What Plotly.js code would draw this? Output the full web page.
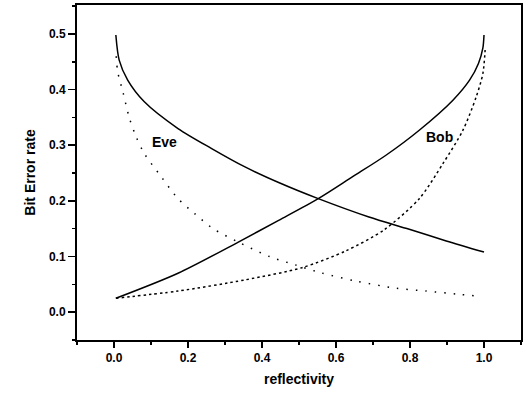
<!DOCTYPE html>
<html>
<head>
<meta charset="utf-8">
<script src="https://cdn.plot.ly/plotly-3.0.1.min.js"></script>
<style>html,body{margin:0;padding:0;background:#fff;}#chart{width:526px;height:394px;}</style>
</head>
<body>
<div id="chart"></div>
<script>
// Eve, solid (upper decreasing curve)
const eveSolidX = [0.005, 0.014, 0.037, 0.082, 0.173, 0.264, 0.354, 0.445, 0.552, 0.689, 0.798, 0.898, 1.0];
const eveSolidY = [0.498, 0.453, 0.417, 0.378, 0.330, 0.294, 0.261, 0.233, 0.204, 0.171, 0.149, 0.128, 0.108];
// Bob, solid (upper increasing curve)
const bobSolidX = [0.005, 0.173, 0.336, 0.445, 0.552, 0.644, 0.735, 0.825, 0.916, 0.961, 0.985, 0.997, 1.0];
const bobSolidY = [0.025, 0.070, 0.126, 0.165, 0.204, 0.243, 0.282, 0.327, 0.381, 0.417, 0.447, 0.475, 0.498];
// Eve, dotted (lower decreasing curve)
const eveDotX = [0.006, 0.010, 0.024, 0.042, 0.060, 0.082, 0.128, 0.173, 0.218, 0.268, 0.336, 0.420, 0.490, 0.558, 0.653, 0.762, 0.843, 0.934, 0.984];
const eveDotY = [0.460, 0.432, 0.396, 0.348, 0.315, 0.285, 0.243, 0.204, 0.177, 0.150, 0.126, 0.100, 0.085, 0.071, 0.056, 0.043, 0.038, 0.032, 0.029];
// Bob, dashed (lower increasing curve)
const bobDashX = [0.005, 0.173, 0.354, 0.508, 0.626, 0.730, 0.825, 0.889, 0.943, 0.979, 0.997, 1.003];
const bobDashY = [0.025, 0.038, 0.058, 0.080, 0.110, 0.148, 0.204, 0.267, 0.327, 0.387, 0.429, 0.471];
// Curve labels
const labelText = ["Eve", "Bob"];
const labelX = [0.137, 0.88];
const labelY = [0.306, 0.314];

const xTicks = [0.0, 0.2, 0.4, 0.6, 0.8, 1.0];
const yTicks = [0.0, 0.1, 0.2, 0.3, 0.4, 0.5];

const fontFam = "Liberation Sans, Arial, sans-serif";
const traces = [
  {x: eveSolidX, y: eveSolidY, mode: "lines", line: {color: "#000", width: 1.5, shape: "spline", smoothing: 0.8}, hoverinfo: "skip"},
  {x: bobSolidX, y: bobSolidY, mode: "lines", line: {color: "#000", width: 1.5, shape: "spline", smoothing: 0.8}, hoverinfo: "skip"},
  {x: eveDotX, y: eveDotY, mode: "lines", line: {color: "#000", width: 1.5, dash: "1.5px,8px", shape: "spline", smoothing: 0.8}, hoverinfo: "skip"},
  {x: bobDashX, y: bobDashY, mode: "lines", line: {color: "#000", width: 1.5, dash: "2.5px,3px", shape: "spline", smoothing: 0.8}, hoverinfo: "skip"}
];

const layout = {
  width: 526, height: 394,
  margin: {l: 77, r: 5, t: 5, b: 54},
  paper_bgcolor: "#fff", plot_bgcolor: "#fff",
  showlegend: false,
  font: {family: fontFam, color: "#000"},
  xaxis: {
    range: [-0.1, 1.1], tickvals: xTicks, tickformat: ".1f",
    ticks: "outside", ticklen: 6, tickwidth: 1.5, tickcolor: "#000",
    minor: {dtick: 0.1, ticks: "outside", ticklen: 3, tickcolor: "#000"},
    showline: true, linewidth: 2, linecolor: "#000", mirror: true,
    showgrid: false, zeroline: false,
    tickfont: {size: 12, weight: 700, family: fontFam},
    title: {text: "reflectivity", font: {size: 14, weight: 700, family: fontFam}, standoff: 10}
  },
  yaxis: {
    range: [-0.05, 0.552], tickvals: yTicks, tickformat: ".1f",
    ticks: "outside", ticklen: 7, tickwidth: 1.5, tickcolor: "#000",
    minor: {dtick: 0.05, ticks: "outside", ticklen: 3, tickcolor: "#000"},
    showline: true, linewidth: 2, linecolor: "#000", mirror: true,
    showgrid: false, zeroline: false,
    tickfont: {size: 12, weight: 700, family: fontFam},
    title: {text: "Bit Error rate", font: {size: 14, weight: 700, family: fontFam}, standoff: 10}
  },
  annotations: labelText.map((t, i) => ({
    x: labelX[i], y: labelY[i], xref: "x", yref: "y", text: t, showarrow: false,
    font: {size: 14, weight: 700, family: fontFam, color: "#000"}
  }))
};

Plotly.newPlot("chart", traces, layout, {staticPlot: true, displayModeBar: false});
</script>
</body>
</html>
